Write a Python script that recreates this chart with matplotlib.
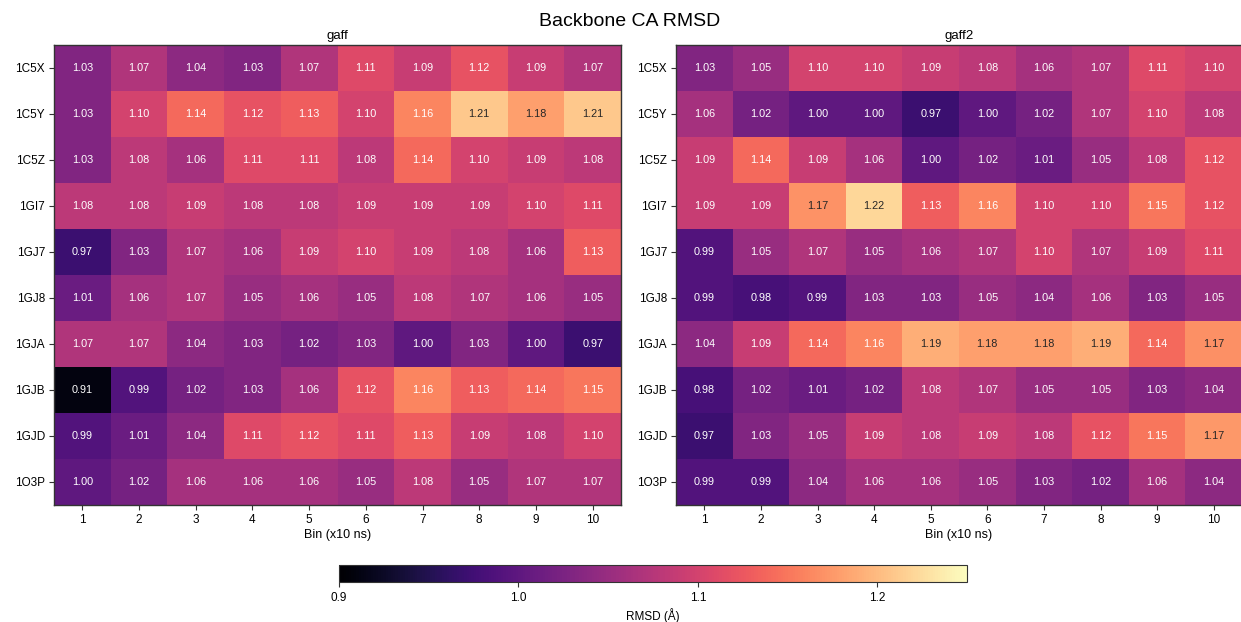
import numpy as np
import matplotlib
matplotlib.use("Agg")
import matplotlib.pyplot as plt
from matplotlib.colors import Normalize, to_rgb

plt.rcParams['font.family'] = ['Liberation Sans', 'DejaVu Sans']

structures = ["1C5X", "1C5Y", "1C5Z", "1GI7", "1GJ7", "1GJ8", "1GJA", "1GJB", "1GJD", "1O3P"]
bins = [1, 2, 3, 4, 5, 6, 7, 8, 9, 10]

gaff = [
    [1.03, 1.07, 1.04, 1.03, 1.07, 1.11, 1.09, 1.12, 1.09, 1.07],
    [1.03, 1.10, 1.14, 1.12, 1.13, 1.10, 1.16, 1.21, 1.18, 1.21],
    [1.03, 1.08, 1.06, 1.11, 1.11, 1.08, 1.14, 1.10, 1.09, 1.08],
    [1.08, 1.08, 1.09, 1.08, 1.08, 1.09, 1.09, 1.09, 1.10, 1.11],
    [0.97, 1.03, 1.07, 1.06, 1.09, 1.10, 1.09, 1.08, 1.06, 1.13],
    [1.01, 1.06, 1.07, 1.05, 1.06, 1.05, 1.08, 1.07, 1.06, 1.05],
    [1.07, 1.07, 1.04, 1.03, 1.02, 1.03, 1.00, 1.03, 1.00, 0.97],
    [0.91, 0.99, 1.02, 1.03, 1.06, 1.12, 1.16, 1.13, 1.14, 1.15],
    [0.99, 1.01, 1.04, 1.11, 1.12, 1.11, 1.13, 1.09, 1.08, 1.10],
    [1.00, 1.02, 1.06, 1.06, 1.06, 1.05, 1.08, 1.05, 1.07, 1.07],
]

gaff2 = [
    [1.03, 1.05, 1.10, 1.10, 1.09, 1.08, 1.06, 1.07, 1.11, 1.10],
    [1.06, 1.02, 1.00, 1.00, 0.97, 1.00, 1.02, 1.07, 1.10, 1.08],
    [1.09, 1.14, 1.09, 1.06, 1.00, 1.02, 1.01, 1.05, 1.08, 1.12],
    [1.09, 1.09, 1.17, 1.22, 1.13, 1.16, 1.10, 1.10, 1.15, 1.12],
    [0.99, 1.05, 1.07, 1.05, 1.06, 1.07, 1.10, 1.07, 1.09, 1.11],
    [0.99, 0.98, 0.99, 1.03, 1.03, 1.05, 1.04, 1.06, 1.03, 1.05],
    [1.04, 1.09, 1.14, 1.16, 1.19, 1.18, 1.18, 1.19, 1.14, 1.168],
    [0.98, 1.02, 1.01, 1.02, 1.08, 1.07, 1.05, 1.05, 1.03, 1.04],
    [0.97, 1.03, 1.05, 1.09, 1.08, 1.09, 1.08, 1.12, 1.15, 1.174],
    [0.99, 0.99, 1.04, 1.06, 1.06, 1.05, 1.03, 1.02, 1.06, 1.04],
]

titles = ["gaff", "gaff2"]
cbar_ticks = [0.9, 1.0, 1.1, 1.2]

vmin, vmax = 0.9, 1.25
cmap = plt.get_cmap("magma")
norm = Normalize(vmin=vmin, vmax=vmax)


def rel_lum(c):
    rgb = np.array(to_rgb(c))
    rgb = np.where(rgb <= .03928, rgb / 12.92, ((rgb + .055) / 1.055) ** 2.4)
    return rgb.dot([.2126, .7152, .0722])


W, H = 1241, 622
fig = plt.figure(figsize=(W / 100, H / 100), dpi=100)

ax_pos = [
    [54 / W, 1 - 505 / H, 567 / W, 460 / H],
    [676 / W, 1 - 505 / H, 566 / W, 460 / H],
]

edge = "#333333"
im = None
for k, data in enumerate([gaff, gaff2]):
    arr = np.array(data)
    ax = fig.add_axes(ax_pos[k])
    im = ax.pcolormesh(np.arange(len(bins) + 1), np.arange(len(structures) + 1), arr,
                       cmap=cmap, norm=norm)
    ax.set_xlim(0, len(bins))
    ax.set_ylim(len(structures), 0)
    ax.set_xticks(np.arange(len(bins)) + 0.5)
    ax.set_xticklabels([str(b) for b in bins], fontsize=8.5)
    ax.set_yticks(np.arange(len(structures)) + 0.5)
    ax.set_yticklabels(structures, fontsize=8.5)
    ax.tick_params(length=3.5, width=0.8, color=edge, pad=3)
    ax.set_xlabel("Bin (x10 ns)", fontsize=9, labelpad=2)
    ax.set_title(titles[k], fontsize=9.5, pad=4)
    for s in ax.spines.values():
        s.set_color(edge)
        s.set_linewidth(1.0)
    for i in range(arr.shape[0]):
        for j in range(arr.shape[1]):
            v = arr[i, j]
            col = cmap(norm(v))
            tc = "#262626" if rel_lum(col) > .408 else "white"
            ax.text(j + 0.5, i + 0.5, f"{v:.2f}", ha="center", va="center",
                    fontsize=7.8, color=tc)

cax = fig.add_axes([339 / W, 1 - 582 / H, 628 / W, 17 / H])
cb = fig.colorbar(im, cax=cax, orientation="horizontal", ticks=cbar_ticks)
cb.ax.tick_params(labelsize=8.5, length=3.5, color=edge)
cb.set_label("RMSD (Å)", fontsize=8.5, labelpad=3)
cb.outline.set_edgecolor(edge)
cb.ax.set_xticklabels([f"{t:.1f}" for t in cbar_ticks])

fig.text(630 / W, 1 - 21 / H, "Backbone CA RMSD", ha="center", va="center", fontsize=14)

fig.savefig("out.png", dpi=100)
